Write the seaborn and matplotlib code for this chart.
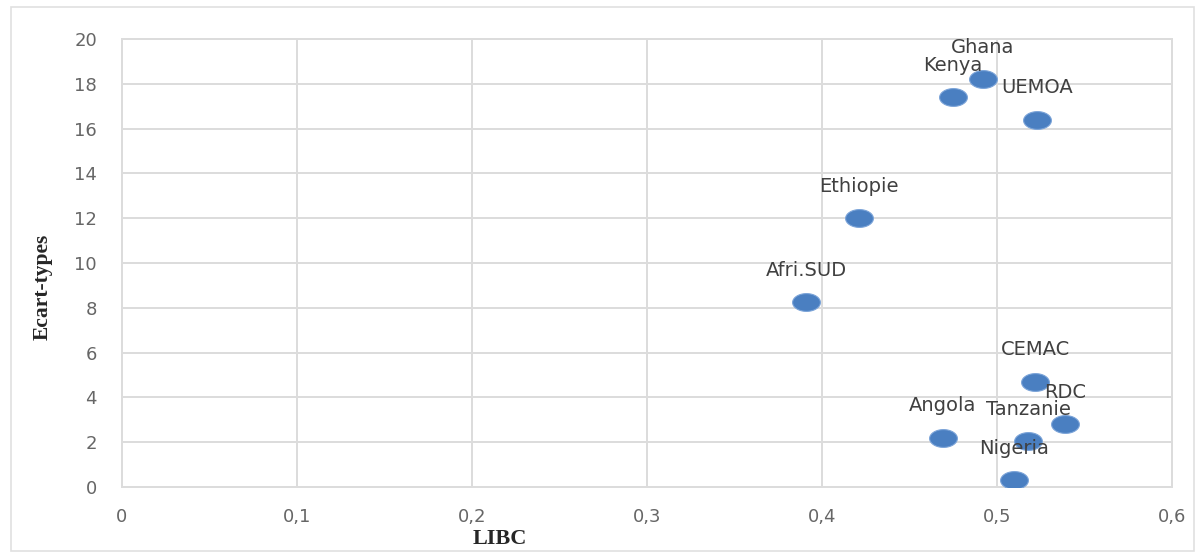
import matplotlib
matplotlib.use("Agg")
import matplotlib.pyplot as plt
import seaborn as sns
import pandas as pd
import numpy as np
from matplotlib.path import Path
from matplotlib.patches import Rectangle
from matplotlib.ticker import FuncFormatter

# =============================
# DONNEES
# =============================
pays = ["Ghana", "Kenya", "UEMOA", "Ethiopie", "Afri.SUD",
        "CEMAC", "RDC", "Tanzanie", "Angola", "Nigeria"]
libc = [0.492, 0.475, 0.523, 0.421, 0.391, 0.522, 0.539, 0.518, 0.469, 0.510]
ecart_types = [18.2, 17.4, 16.4, 12.0, 8.25, 4.7, 2.8, 2.05, 2.2, 0.3]

x_ticks = [0, 0.1, 0.2, 0.3, 0.4, 0.5, 0.6]
y_ticks = [0, 2, 4, 6, 8, 10, 12, 14, 16, 18, 20]

df = pd.DataFrame({"pays": pays, "LIBC": libc, "Ecart-types": ecart_types})

# =============================
# STYLE
# =============================
sns.set_style("white")
plt.rcParams["font.family"] = ["DejaVu Sans"]

gris_grille = "#dcdcdc"
gris_texte = "#666666"
bleu = "#4a7fc1"

# marqueur elliptique (l'image d'origine est etiree horizontalement)
t = np.linspace(0, 2 * np.pi, 60)
ellipse = Path(np.column_stack([np.cos(t), 0.64 * np.sin(t)]), closed=True)

fig = plt.figure(figsize=(12.04, 5.58), dpi=100)
ax = fig.add_axes([0.1013, 0.1272, 0.8721, 0.8028])

sns.scatterplot(data=df, x="LIBC", y="Ecart-types", ax=ax, marker=ellipse,
                s=400, color=bleu, edgecolor="#7aa3d8", linewidth=0.8,
                legend=False, zorder=3)

# etiquettes au-dessus des points
for _, row in df.iterrows():
    ax.annotate(row["pays"], (row["LIBC"], row["Ecart-types"]),
                xytext=(0, 23), textcoords="offset points",
                ha="center", va="center", fontsize=14, color="#404040",
                zorder=4)

# =============================
# AXES
# =============================
ax.set_xlim(0, 0.6)
ax.set_ylim(0, 20)
ax.set_xticks(x_ticks)
ax.set_yticks(y_ticks)
ax.xaxis.set_major_formatter(FuncFormatter(lambda v, p: "0" if v == 0 else f"{v:.1f}".replace(".", ",")))
ax.grid(True, color=gris_grille, linewidth=1.4)
ax.set_axisbelow(True)
for sp in ax.spines.values():
    sp.set_color(gris_grille)
    sp.set_linewidth(1.4)
ax.tick_params(axis="x", length=0, pad=15, labelsize=13, labelcolor=gris_texte)
ax.tick_params(axis="y", length=0, pad=18, labelsize=13, labelcolor=gris_texte)

ax.set_xlabel("LIBC", family="Liberation Serif", fontweight="bold", fontsize=16)
ax.set_ylabel("Ecart-types", family="Liberation Serif", fontweight="bold", fontsize=15.5)
ax.xaxis.set_label_coords(0.36, -0.094)
ax.yaxis.set_label_coords(-0.066, 0.446)

# cadre exterieur du graphique
fig.patches.append(Rectangle((0.009, 0.012), 0.983, 0.975, transform=fig.transFigure,
                             fill=False, edgecolor="#e0e0e0", linewidth=1.2))

fig.savefig("out.png", dpi=100)
